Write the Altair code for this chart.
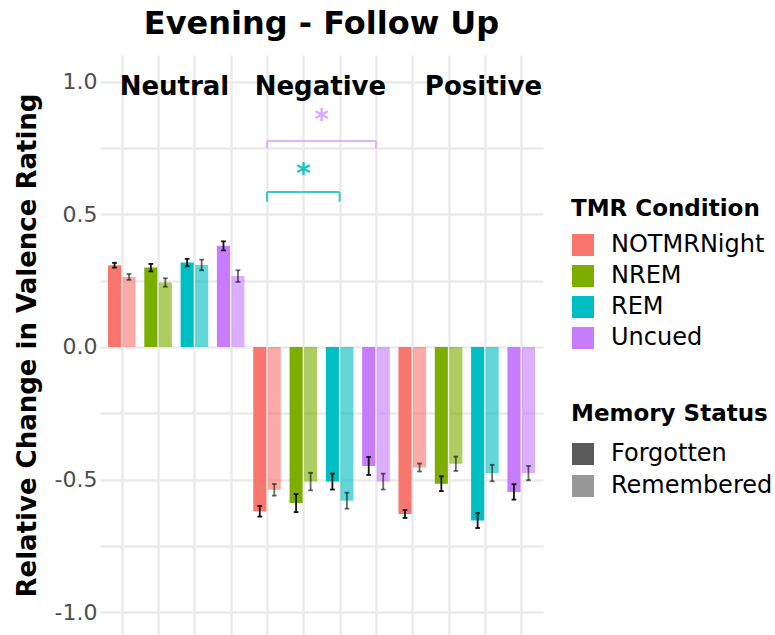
import altair as alt
import pandas as pd

# ---------------- data ----------------
groups = ["Neutral", "Negative", "Positive"]
conditions = ["NOTMRNight", "NREM", "REM", "Uncued"]
statuses = ["Forgotten", "Remembered"]
condition_colors = ["#F8766D", "#7CAE00", "#00BFC4", "#C77CFF"]

# order: Neutral (4 conditions), Negative (4), Positive (4)
forgotten_mean = [0.308, 0.299, 0.318, 0.381,
                  -0.619, -0.588, -0.507, -0.448,
                  -0.629, -0.515, -0.654, -0.546]
forgotten_se = [0.009, 0.014, 0.014, 0.017,
                0.020, 0.034, 0.030, 0.034,
                0.015, 0.028, 0.028, 0.029]
remembered_mean = [0.264, 0.243, 0.309, 0.267,
                   -0.538, -0.507, -0.579, -0.507,
                   -0.454, -0.440, -0.475, -0.475]
remembered_se = [0.011, 0.016, 0.020, 0.022,
                 0.022, 0.033, 0.030, 0.030,
                 0.015, 0.027, 0.031, 0.027]

group_label_x = [2.45, 6.47, 10.96]
group_label_y = [0.98, 0.98, 0.98]

sig_condition = ["REM", "Uncued"]
sig_from = [5, 5]
sig_to = [7, 8]
sig_bar_y = [0.584, 0.776]
sig_tip_y = [0.547, 0.748]
sig_star_y = [0.667, 0.869]
sig_line_color = ["#3CC9CD", "#DDB4FF"]
sig_star_color = ["#1FC2C6", "#D9ABFF"]

FONT = "DejaVu Sans"

# ---------------- tables ----------------
rows = []
for gi, g in enumerate(groups):
    for ci, c in enumerate(conditions):
        k = gi * 4 + ci
        rows.append(dict(group=g, condition=c, pos=k + 1, status="Forgotten",
                         mean=forgotten_mean[k], se=forgotten_se[k]))
        rows.append(dict(group=g, condition=c, pos=k + 1, status="Remembered",
                         mean=remembered_mean[k], se=remembered_se[k]))
df = pd.DataFrame(rows)

labels_df = pd.DataFrame(dict(text=groups, x=group_label_x, y=group_label_y))

sig_df = pd.DataFrame(dict(condition=sig_condition, x_from=sig_from, x_to=sig_to,
                           bar_y=sig_bar_y, tip_y=sig_tip_y, star_y=sig_star_y,
                           line_color=sig_line_color, star_color=sig_star_color))

# ---------------- scales / axes ----------------
xs = alt.Scale(domain=[0.4, 12.6], nice=False, zero=False)
ys = alt.Scale(domain=[-1.085, 1.1], nice=False, zero=False)

x_axis = alt.Axis(values=list(range(1, 13)), labels=False, ticks=False, domain=False,
                  grid=True, gridColor="#EBEBEB", gridWidth=2.5, title=None)
y_axis = alt.Axis(values=[-1, -0.75, -0.5, -0.25, 0, 0.25, 0.5, 0.75, 1],
                  labelExpr="abs(datum.value * 2 - round(datum.value * 2)) < 0.001 ? replace(format(datum.value, '.1f'), '\u2212', '-') : ''",
                  ticks=False, domain=False, grid=True, gridColor="#EBEBEB", gridWidth=2.5,
                  labelFontSize=22, labelColor="#4D4D4D", labelFont=FONT, labelPadding=3,
                  title="Relative Change in Valence Rating", titleFontSize=26,
                  titleFont=FONT, titleFontWeight="bold", titleColor="black", titlePadding=14)

base = alt.Chart(df).transform_calculate(
    xc="datum.pos + (datum.status == 'Forgotten' ? -0.2 : 0.2)"
).transform_calculate(
    x1="datum.xc - 0.18", x2="datum.xc + 0.18",
    cl="datum.xc - 0.065", cr="datum.xc + 0.065",
    lo="datum.mean - datum.se", hi="datum.mean + datum.se", zero="0"
)

opacity_scale = alt.Scale(domain=statuses, range=[1.0, 0.62])

bars = base.mark_bar().encode(
    x=alt.X("x1:Q", scale=xs, axis=x_axis),
    x2="x2:Q",
    y=alt.Y("mean:Q", scale=ys, axis=y_axis),
    y2="zero:Q",
    color=alt.Color("condition:N", scale=alt.Scale(domain=conditions, range=condition_colors),
                    legend=alt.Legend(title="TMR Condition", orient="none", legendX=471, legendY=143,
                                      titleFontSize=23, titleFont=FONT, titleFontWeight="bold",
                                      titleColor="black", labelFontSize=24, labelFont=FONT,
                                      labelColor="black", symbolType="square", symbolSize=484,
                                      symbolStrokeWidth=0, symbolOpacity=1, rowPadding=7,
                                      labelOffset=16, titlePadding=12,
                                      titleLimit=400, labelLimit=400)),
    opacity=alt.Opacity("status:N", scale=opacity_scale,
                        legend=alt.Legend(title="Memory Status", orient="none", legendX=471, legendY=348,
                                          titleFontSize=23, titleFont=FONT, titleFontWeight="bold",
                                          titleColor="black", labelFontSize=24, labelFont=FONT,
                                          labelColor="black", symbolType="square", symbolSize=484,
                                          symbolFillColor="#595959", symbolStrokeWidth=0,
                                          rowPadding=8, labelOffset=16, titlePadding=16,
                                          titleLimit=400, labelLimit=400)),
)

err = base.mark_rule(color="#111111", strokeWidth=1.8).encode(
    x=alt.X("xc:Q", scale=xs), y=alt.Y("lo:Q", scale=ys), y2="hi:Q",
    opacity=alt.Opacity("status:N", scale=opacity_scale, legend=None),
)
cap_lo = base.mark_rule(color="#111111", strokeWidth=1.8).encode(
    x=alt.X("cl:Q", scale=xs), x2="cr:Q", y=alt.Y("lo:Q", scale=ys),
    opacity=alt.Opacity("status:N", scale=opacity_scale, legend=None),
)
cap_hi = base.mark_rule(color="#111111", strokeWidth=1.8).encode(
    x=alt.X("cl:Q", scale=xs), x2="cr:Q", y=alt.Y("hi:Q", scale=ys),
    opacity=alt.Opacity("status:N", scale=opacity_scale, legend=None),
)

group_text = alt.Chart(labels_df).mark_text(
    font=FONT, fontSize=26, fontWeight="bold", color="black", baseline="middle", align="center"
).encode(x=alt.X("x:Q", scale=xs), y=alt.Y("y:Q", scale=ys), text="text:N")

sig = alt.Chart(sig_df)
sig_h = sig.mark_rule(strokeWidth=2).encode(
    x=alt.X("x_from:Q", scale=xs), x2="x_to:Q", y=alt.Y("bar_y:Q", scale=ys),
    color=alt.Color("line_color:N", scale=None))
sig_l = sig.mark_rule(strokeWidth=2).encode(
    x=alt.X("x_from:Q", scale=xs), y=alt.Y("bar_y:Q", scale=ys), y2="tip_y:Q",
    color=alt.Color("line_color:N", scale=None))
sig_r = sig.mark_rule(strokeWidth=2).encode(
    x=alt.X("x_to:Q", scale=xs), y=alt.Y("bar_y:Q", scale=ys), y2="tip_y:Q",
    color=alt.Color("line_color:N", scale=None))
sig_star = sig.transform_calculate(mid="(datum.x_from + datum.x_to) / 2").mark_text(
    text="*", font=FONT, fontSize=28, fontWeight="bold", baseline="middle", align="center", dy=5
).encode(x=alt.X("mid:Q", scale=xs), y=alt.Y("star_y:Q", scale=ys),
         color=alt.Color("star_color:N", scale=None))

chart = alt.layer(bars, err, cap_lo, cap_hi, group_text, sig_h, sig_l, sig_r, sig_star).properties(
    width=443, height=580,
    title=alt.TitleParams("Evening - Follow Up", fontSize=32, font=FONT, fontWeight="bold",
                          color="black", anchor="middle", offset=14),
    autosize=alt.AutoSizeParams(type="none"),
    padding={"left": 100, "top": 55, "right": 232, "bottom": 0},
    background="white",
).configure_view(stroke=None)

chart.save("out.html", embed_options={"renderer": "svg", "actions": False})
